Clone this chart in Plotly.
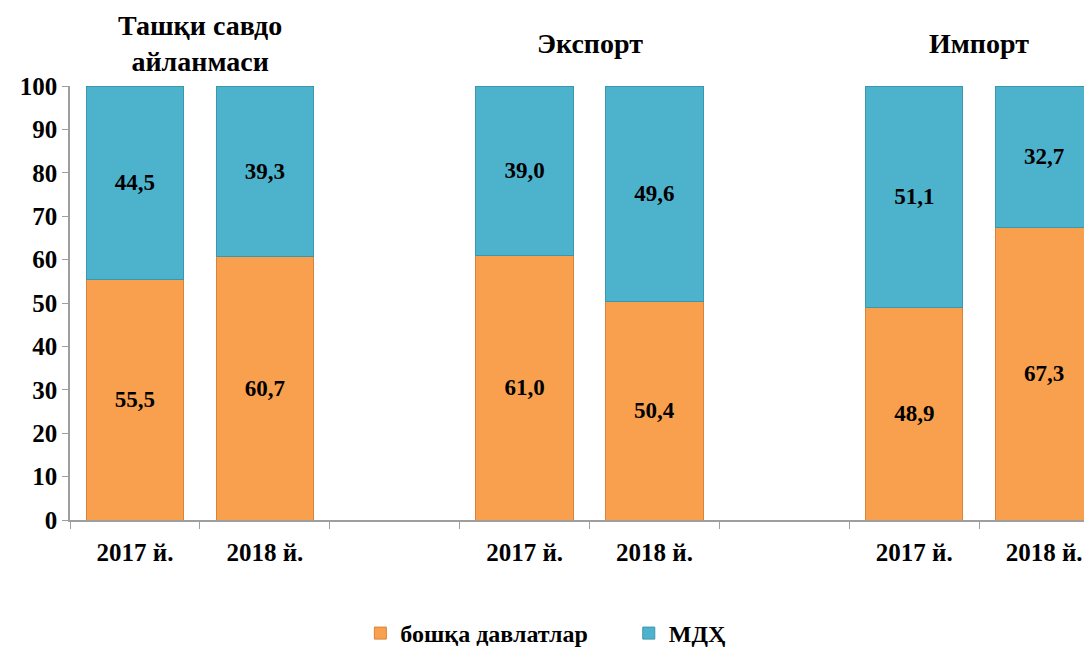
import plotly.graph_objects as go

groups = ["Ташқи савдо<br>айланмаси", "Экспорт", "Импорт"]
years = ["2017 й.", "2018 й."]
boshqa = [[55.5, 60.7], [61.0, 50.4], [48.9, 67.3]]
mdh = [[44.5, 39.3], [39.0, 49.6], [51.1, 32.7]]
series_names = ["бошқа давлатлар", "МДҲ"]

FONT = "Liberation Serif"
ORANGE = "#F9A04E"
TEAL = "#4DB3CD"

# two bars per group, one empty slot between groups
xs, tick_text, v_other, v_cis = [], [], [], []
for g in range(len(groups)):
    for i, y in enumerate(years):
        xs.append(g * 3 + i)
        tick_text.append(y)
        v_other.append(boshqa[g][i])
        v_cis.append(mdh[g][i])


def fmt(v):
    return "<b>" + f"{v:.1f}".replace(".", ",") + "</b>"


fig = go.Figure()
fig.add_bar(x=xs, y=v_other, name=f"<b>{series_names[0]}</b>\u2003\u2002",
            width=0.75,
            marker=dict(color=ORANGE, line=dict(color="#D9823A", width=1)),
            text=[fmt(v) for v in v_other], textposition="inside",
            insidetextanchor="middle",
            textfont=dict(family=FONT, size=23, color="black"))
fig.add_bar(x=xs, y=v_cis, name=f"<b>{series_names[1]}</b>", width=0.75,
            marker=dict(color=TEAL, line=dict(color="#3A97B0", width=1)),
            text=[fmt(v) for v in v_cis], textposition="inside",
            insidetextanchor="middle",
            textfont=dict(family=FONT, size=23, color="black"))

for g, name in enumerate(groups):
    fig.add_annotation(x=g * 3 + 0.5, y=1.099, xref="x", yref="paper",
                       yanchor="middle", text=f"<b>{name}</b>",
                       showarrow=False,
                       font=dict(family=FONT, size=28, color="black"))

fig.update_layout(
    width=1092, height=648, barmode="stack",
    plot_bgcolor="white", paper_bgcolor="white",
    margin=dict(l=62, r=0, t=78, b=135),
    font=dict(family=FONT, size=23, color="black"),
    legend=dict(orientation="h", x=0.462, xanchor="center", y=-0.21,
                yanchor="top", font=dict(family=FONT, size=24),
                itemwidth=30, traceorder="normal"),
    xaxis=dict(range=[-0.5, 7.43], tickvals=xs,
               ticktext=[f"<b>{t}</b>" for t in tick_text],
               ticks="", showline=True, linecolor="#9E9E9E", linewidth=1.5,
               showgrid=False, zeroline=False, ticklabelstandoff=9,
               minor=dict(tick0=0.5, dtick=1, ticks="outside", ticklen=7,
                          tickcolor="#9E9E9E", showgrid=False),
               tickfont=dict(family=FONT, size=25)),
    yaxis=dict(range=[0, 100], dtick=10, ticks="outside", ticklen=6,
               tickcolor="#9E9E9E", showline=True, linecolor="#9E9E9E",
               linewidth=1.5, showgrid=False, zeroline=False,
               tickprefix="<b>", ticksuffix="</b>",
               tickfont=dict(family=FONT, size=25)),
)

fig.write_html("out.html")
